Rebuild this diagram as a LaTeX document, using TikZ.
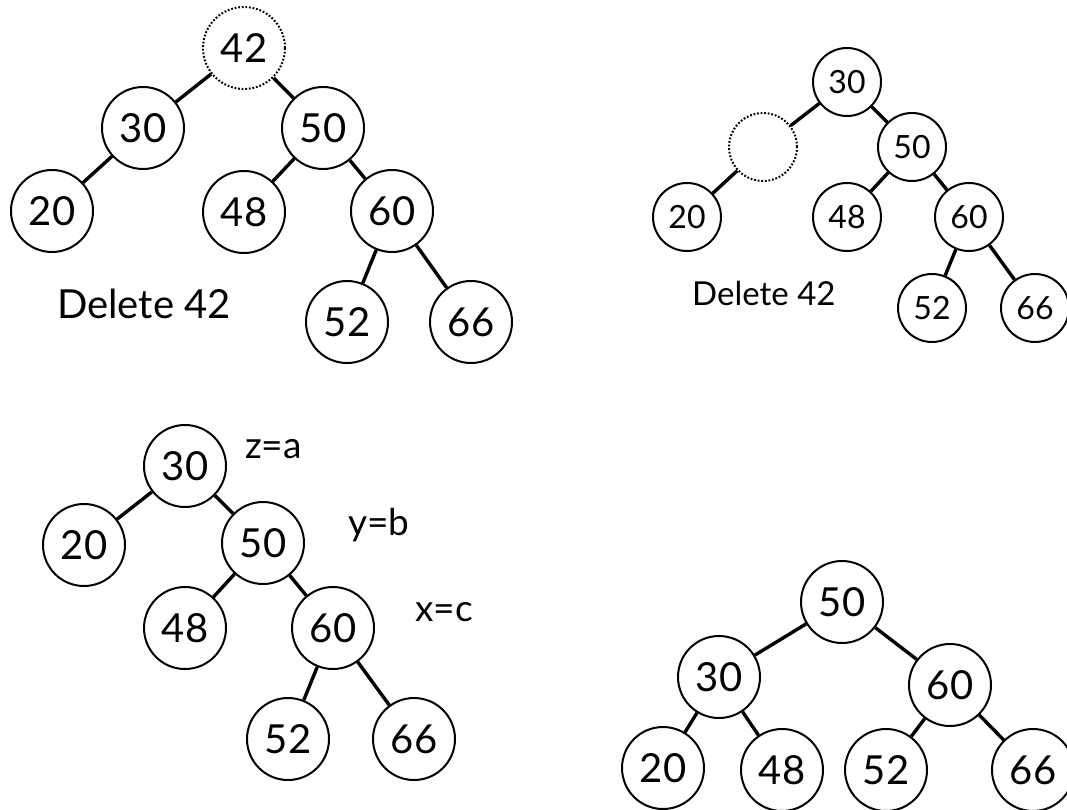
\documentclass[tikz,border=0pt]{standalone}
\usepackage{fontspec}
\setmainfont{Lato}
\begin{document}
\begin{tikzpicture}[x=1pt,y=-1pt,
  nd/.style={circle,draw,line width=2pt,minimum size=82pt,inner sep=0pt,font=\fontsize{40}{40}\selectfont},
  sm/.style={nd,minimum size=68pt,font=\fontsize{32}{32}\selectfont},
  gone/.style={line width=2pt,dash pattern=on 1.8pt off 1.8pt},
  ed/.style={line width=3.4pt},
  lbl/.style={anchor=base west,inner sep=0pt,font=\fontsize{40}{40}\selectfont},
  lbls/.style={lbl,font=\fontsize{33}{33}\selectfont},
  lblv/.style={lbl,font=\fontsize{37}{37}\selectfont}]
\useasboundingbox (0,0) rectangle (1067,810);

% ---- top-left tree ----
\node[nd,gone] (a42) at (244,48) {42};
\node[nd] (a30) at (143,128) {30};
\node[nd] (a50) at (323,128) {50};
\node[nd] (a20) at (52,211) {20};
\node[nd] (a48) at (244,212) {48};
\node[nd] (a60) at (392,211) {60};
\node[nd] (a52) at (347,322) {52};
\node[nd] (a66) at (471,322) {66};
\draw[ed] (a42) -- (a30);
\draw[ed] (a42) -- (a50);
\draw[ed] (a30) -- (a20);
\draw[ed] (a50) -- (a48);
\draw[ed] (a50) -- (a60);
\draw[ed] (a60) -- (a52);
\draw[ed] (a60) -- (a66);
\node[lbl] (t1) at (57,318) {Delete 42};

% ---- top-right tree ----
\node[sm] (b30) at (847,82) {30};
\node[sm,gone] (bx) at (763,147) {};
\node[sm] (b50) at (912,147) {50};
\node[sm] (b20) at (687,217) {20};
\node[sm] (b48) at (847,217) {48};
\node[sm] (b60) at (969,217) {60};
\node[sm] (b52) at (932,308) {52};
\node[sm] (b66) at (1035,308) {66};
\draw[ed] (b30) -- (bx);
\draw[ed] (b30) -- (b50);
\draw[ed] (bx) -- (b20);
\draw[ed] (b50) -- (b48);
\draw[ed] (b50) -- (b60);
\draw[ed] (b60) -- (b52);
\draw[ed] (b60) -- (b66);
\node[lbls] (t2) at (692,305) {Delete 42};

% ---- bottom-left tree ----
\node[nd] (c30) at (185,466) {30};
\node[nd] (c20) at (84,545) {20};
\node[nd] (c50) at (263,543) {50};
\node[nd] (c48) at (185,628) {48};
\node[nd] (c60) at (333,628) {60};
\node[nd] (c52) at (288,739) {52};
\node[nd] (c66) at (414,739) {66};
\draw[ed] (c30) -- (c20);
\draw[ed] (c30) -- (c50);
\draw[ed] (c50) -- (c48);
\draw[ed] (c50) -- (c60);
\draw[ed] (c60) -- (c52);
\draw[ed] (c60) -- (c66);
\node[lblv] (za) at (245,458) {z=a};
\node[lblv] (yb) at (348,535) {y=b};
\node[lblv] (xc) at (415,621) {x=c};

% ---- bottom-right tree ----
\node[nd] (d50) at (842,602) {50};
\node[nd] (d30) at (719,677) {30};
\node[nd] (d60) at (950,685) {60};
\node[nd] (d20) at (663,768) {20};
\node[nd] (d48) at (782,770) {48};
\node[nd] (d52) at (886,770) {52};
\node[nd] (d66) at (1033,770) {66};
\draw[ed] (d50) -- (d30);
\draw[ed] (d50) -- (d60);
\draw[ed] (d30) -- (d20);
\draw[ed] (d30) -- (d48);
\draw[ed] (d60) -- (d52);
\draw[ed] (d60) -- (d66);
\end{tikzpicture}
\end{document}
